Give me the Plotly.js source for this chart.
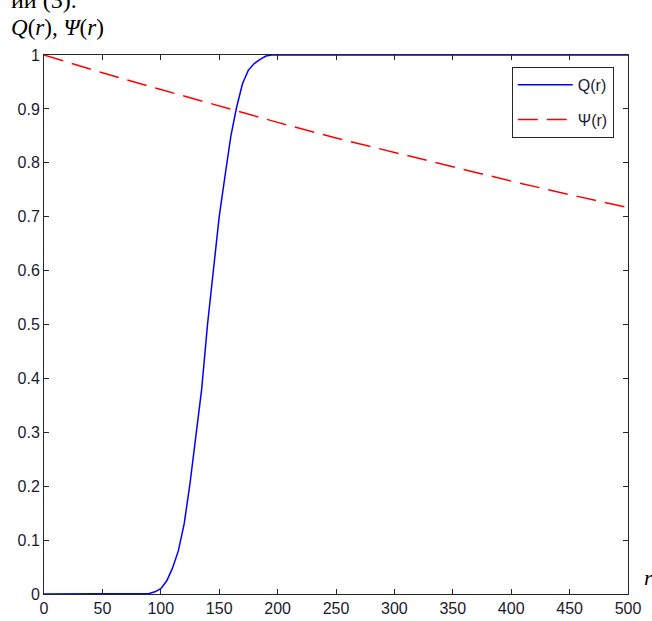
<!DOCTYPE html>
<html>
<head>
<meta charset="utf-8">
<script src="https://cdn.plot.ly/plotly-3.0.1.min.js"></script>
<style>html,body{margin:0;padding:0;background:#fff;}#chart{width:652px;height:621px;}</style>
</head>
<body>
<div id="chart"></div>
<script>
// Q(r) curve
const rQ = [0, 85, 90, 95, 100, 105, 110, 115, 120, 125, 130, 135, 140, 145, 150, 155, 160, 165, 170, 175, 180, 185, 190, 195, 200, 500];
const Q  = [0, 0, 0.001, 0.004, 0.01, 0.024, 0.048, 0.08, 0.13, 0.205, 0.29, 0.38, 0.5, 0.6, 0.7, 0.776, 0.85, 0.904, 0.947, 0.972, 0.984, 0.992, 0.998, 1, 1, 1];
// Psi(r) curve
const rPsi = [0, 50, 100, 150, 200, 250, 300, 350, 400, 450, 500];
const Psi  = [1, 0.967, 0.936, 0.905, 0.875, 0.846, 0.819, 0.792, 0.766, 0.741, 0.717];
const xTicks = [0, 50, 100, 150, 200, 250, 300, 350, 400, 450, 500];
const yTicks = [0, 0.1, 0.2, 0.3, 0.4, 0.5, 0.6, 0.7, 0.8, 0.9, 1];
const names = ["Q(r)", "\u03A8(r)"];

const axisCommon = {
  showgrid: false, zeroline: false, showline: true, mirror: "ticks",
  linecolor: "#262626", linewidth: 1, ticks: "inside", ticklen: 5, tickwidth: 1,
  tickcolor: "#262626",
  tickfont: {family: "Arial, Liberation Sans, sans-serif", size: 16, color: "#1a1a2e"}
};

const traces = [
  {x: rQ, y: Q, type: "scatter", mode: "lines", name: names[0], legendgroup: "a",
   line: {color: "#0000ff", width: 1.5}},
  {x: rPsi, y: Psi, type: "scatter", mode: "lines", name: names[1], legendgroup: "b",
   line: {color: "#ff0000", width: 1.5, dash: "20px,9px"}}
];

const layout = {
  width: 652, height: 621,
  margin: {l: 44, r: 24, t: 55, b: 27, pad: 0},
  paper_bgcolor: "#ffffff", plot_bgcolor: "#ffffff",
  showlegend: true,
  xaxis: Object.assign({}, axisCommon, {range: [0, 500], tickvals: xTicks, ticktext: xTicks.map(String)}),
  yaxis: Object.assign({}, axisCommon, {range: [0, 1], tickvals: yTicks, ticktext: yTicks.map(String)}),
  legend: {
    x: 0.801, y: 0.978, xanchor: "left", yanchor: "top",
    bgcolor: "#ffffff", bordercolor: "#262626", borderwidth: 1,
    font: {family: "Arial, Liberation Sans, sans-serif", size: 16, color: "#1a1a2e"},
    traceorder: "grouped", tracegroupgap: 11, itemwidth: 55
  },
  annotations: [
    {text: "\u0438\u0438 (3).", xref: "paper", yref: "paper", x: -0.06, y: 1.0, yshift: 40,
     xanchor: "left", yanchor: "bottom", showarrow: false,
     font: {family: "Liberation Serif, Times New Roman, serif", size: 24, color: "#000"}},
    {text: "<i>Q</i>(<i>r</i>), <i>\u03A8</i>(<i>r</i>)", xref: "paper", yref: "paper", x: -0.06, y: 1.0, yshift: 13,
     xanchor: "left", yanchor: "bottom", showarrow: false,
     font: {family: "Liberation Serif, Times New Roman, serif", size: 23, color: "#000"}},
    {text: "<i>r</i>", xref: "paper", yref: "paper", x: 1.0, y: 0.0, xshift: 14, yshift: 2,
     xanchor: "left", yanchor: "bottom", showarrow: false,
     font: {family: "Liberation Serif, Times New Roman, serif", size: 22, color: "#000"}}
  ]
};

Plotly.newPlot("chart", traces, layout, {displayModeBar: false, staticPlot: true});
</script>
</body>
</html>
